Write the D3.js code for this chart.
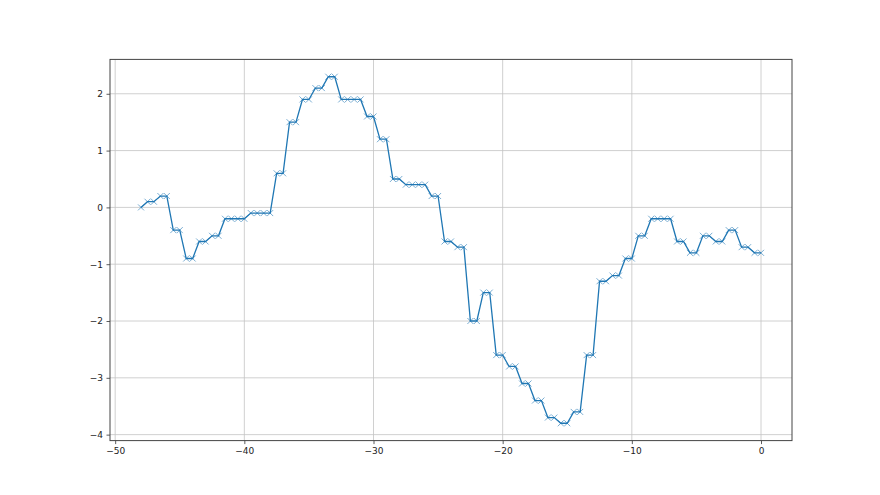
<!DOCTYPE html>
<html>
<head>
<meta charset="utf-8">
<script src="https://cdn.jsdelivr.net/npm/d3@7"></script>
<style>
  body { margin: 0; background: #fff; }
  svg { display: block; }
  .tick text { font-family: "DejaVu Sans", sans-serif; font-size: 9px; fill: #222; }
</style>
</head>
<body>
<svg id="chart" width="880" height="495"></svg>
<script>
// time steps, every half unit from -48 to 0
var xs = d3.range(-48, 0.001, 0.5);

// readings at each step
var values = [
  0.0, 0.1, 0.1, 0.2, 0.2, -0.4, -0.4, -0.9, -0.9, -0.6,
  -0.6, -0.5, -0.5, -0.2, -0.2, -0.2, -0.2, -0.1, -0.1, -0.1,
  -0.1, 0.6, 0.6, 1.5, 1.5, 1.9, 1.9, 2.1, 2.1, 2.3,
  2.3, 1.9, 1.9, 1.9, 1.9, 1.6, 1.6, 1.2, 1.2, 0.5,
  0.5, 0.4, 0.4, 0.4, 0.4, 0.2, 0.2, -0.6, -0.6, -0.7,
  -0.7, -2.0, -2.0, -1.5, -1.5, -2.6, -2.6, -2.8, -2.8, -3.1,
  -3.1, -3.4, -3.4, -3.7, -3.7, -3.8, -3.8, -3.6, -3.6, -2.6,
  -2.6, -1.3, -1.3, -1.2, -1.2, -0.9, -0.9, -0.5, -0.5, -0.2,
  -0.2, -0.2, -0.2, -0.6, -0.6, -0.8, -0.8, -0.5, -0.5, -0.6,
  -0.6, -0.4, -0.4, -0.7, -0.7, -0.8, -0.8
];

var xTicks = [-50, -40, -30, -20, -10, 0];
var yTicks = [-4, -3, -2, -1, 0, 1, 2];

var data = xs.map(function (x, i) { return {x: x, y: values[i]}; });

var svg = d3.select("#chart");

var pLeft = 110, pRight = 792, pTop = 59.4, pBottom = 440.6;

// matplotlib style 5% margins
var xExt = d3.extent(xs), yExt = d3.extent(values);
var xPad = (xExt[1] - xExt[0]) * 0.05, yPad = (yExt[1] - yExt[0]) * 0.05;

var x = d3.scaleLinear().domain([xExt[0] - xPad, xExt[1] + xPad]).range([pLeft, pRight]);
var y = d3.scaleLinear().domain([yExt[0] - yPad, yExt[1] + yPad]).range([pBottom, pTop]);

// grid
var grid = svg.append("g").attr("stroke", "#c4c4c4").attr("stroke-width", 0.8);
grid.selectAll(".gx").data(xTicks).enter().append("line")
    .attr("x1", function (d) { return x(d); }).attr("x2", function (d) { return x(d); })
    .attr("y1", pTop).attr("y2", pBottom);
grid.selectAll(".gy").data(yTicks).enter().append("line")
    .attr("y1", function (d) { return y(d); }).attr("y2", function (d) { return y(d); })
    .attr("x1", pLeft).attr("x2", pRight);

// line
var line = d3.line().x(function (d) { return x(d.x); }).y(function (d) { return y(d.y); });
svg.append("path").datum(data)
    .attr("fill", "none")
    .attr("stroke", "#1f77b4")
    .attr("stroke-width", 1.3)
    .attr("d", line);

// x markers
var m = 3;
svg.append("g").selectAll("path").data(data).enter().append("path")
    .attr("d", function (d) {
      var cx = x(d.x), cy = y(d.y);
      return "M" + (cx - m) + "," + (cy - m) + "L" + (cx + m) + "," + (cy + m) +
             "M" + (cx - m) + "," + (cy + m) + "L" + (cx + m) + "," + (cy - m);
    })
    .attr("stroke", "#1f77b4")
    .attr("stroke-opacity", 0.6)
    .attr("stroke-width", 1);

// axes
var xAxis = svg.append("g").attr("transform", "translate(0," + pBottom + ")")
    .call(d3.axisBottom(x).tickValues(xTicks).tickSize(3.5).tickPadding(3.5).tickFormat(d3.format("d")));
var yAxis = svg.append("g").attr("transform", "translate(" + pLeft + ",0)")
    .call(d3.axisLeft(y).tickValues(yTicks).tickSize(3.5).tickPadding(3.5).tickFormat(d3.format("d")));
[xAxis, yAxis].forEach(function (a) {
  a.select(".domain").remove();
  a.selectAll(".tick line").attr("stroke", "#333").attr("stroke-width", 0.8);
});

// frame
svg.append("rect")
    .attr("x", pLeft).attr("y", pTop)
    .attr("width", pRight - pLeft).attr("height", pBottom - pTop)
    .attr("fill", "none").attr("stroke", "#444").attr("stroke-width", 1);
</script>
</body>
</html>
